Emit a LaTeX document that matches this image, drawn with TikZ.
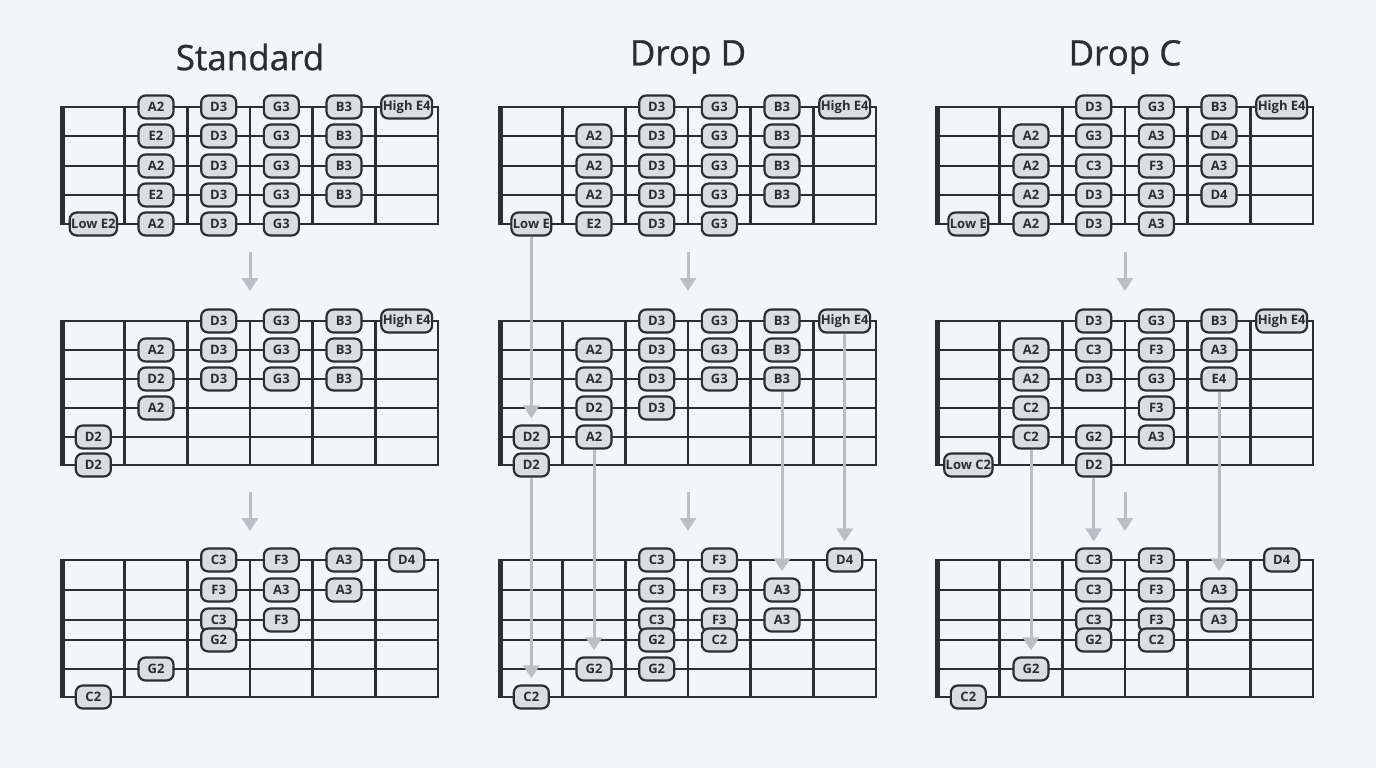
\documentclass[tikz,border=0pt]{standalone}
\usepackage{fontspec}
\setmainfont{Open Sans}
\newfontfamily\titlefont[FakeBold=0.8]{Open Sans}
\usetikzlibrary{arrows.meta}
\definecolor{bgcol}{HTML}{F3F6F8}
\definecolor{wire}{HTML}{2B2F33}
\definecolor{ink}{HTML}{2A2D31}
\definecolor{pillfill}{HTML}{D9DEE1}
\definecolor{flow}{HTML}{B9BFC5}
\tikzset{
    pill/.style={draw=wire, fill=pillfill, line width=2.2pt, rounded corners=7pt,
        minimum width=35pt, minimum height=23pt, inner xsep=1.5pt, inner ysep=0pt,
        font=\bfseries\fontsize{13}{13}\selectfont, text=ink},
    title/.style={font=\titlefont\fontsize{35}{35}\selectfont, text=ink},
    string/.style={draw=wire, line width=2.4pt, line cap=rect},
    nut/.style={draw=wire, line width=5pt},
    move/.style={draw=flow, line width=3pt, -{Triangle[width=16pt,length=13pt]}}
}
% grid of one board: name, nut x, top y, bottom y, string rows
\newcommand{\fretboard}[5]{
    \foreach \y [count=\r] in {#5} {
        \draw[string] (#2,\y) -- ++(376,0);
        \foreach \c in {1,...,6}
            \coordinate (#1-\r-\c) at ({#2+62.67*\c-31.33},\y);
    }
    \foreach \c in {1,...,6}
        \draw[string] ({#2+62.67*\c},#3) -- ({#2+62.67*\c},#4);
    \draw[nut] (#2,#3-1) -- (#2,#4+1);
}
% notes on a board: row/column/text
\newcommand{\notes}[2]{
    \foreach \r/\c/\t in {#2}
        \node[pill] (#1n-\r-\c) at (#1-\r-\c) {\t};
}

\begin{document}
\begin{tikzpicture}[x=1pt, y=-1pt]
    \fill[bgcol] (0,0) rectangle (1376,768);
    \useasboundingbox (0,0) rectangle (1376,768);

    \node[title] (tstd) at (250,57) {Standard};
    \node[title] (tdd) at (688,57) {Drop D};
    \node[title] (tdc) at (1125,57) {Drop C};

    % Standard
    \fretboard{st}{62}{107}{224}{107,136,166,195,224}
    \fretboard{sm}{62}{321}{465}{321,350,379,408,437,465}
    \fretboard{sb}{62}{560}{697}{560,590,620,640,669,697}
    % Drop D
    \fretboard{dt}{500}{107}{224}{107,136,166,195,224}
    \fretboard{dm}{500}{321}{465}{321,350,379,408,437,465}
    \fretboard{db}{500}{560}{697}{560,590,620,640,669,697}
    % Drop C
    \fretboard{ct}{937}{107}{224}{107,136,166,195,224}
    \fretboard{cm}{937}{321}{465}{321,350,379,408,437,465}
    \fretboard{cb}{937}{560}{697}{560,590,620,640,669,697}

    \notes{st}{1/2/A2, 1/3/D3, 1/4/G3, 1/5/B3, 1/6/High E4,
        2/2/E2, 2/3/D3, 2/4/G3, 2/5/B3,
        3/2/A2, 3/3/D3, 3/4/G3, 3/5/B3,
        4/2/E2, 4/3/D3, 4/4/G3, 4/5/B3,
        5/1/Low E2, 5/2/A2, 5/3/D3, 5/4/G3}
    \notes{sm}{1/3/D3, 1/4/G3, 1/5/B3, 1/6/High E4,
        2/2/A2, 2/3/D3, 2/4/G3, 2/5/B3,
        3/2/D2, 3/3/D3, 3/4/G3, 3/5/B3,
        4/2/A2, 5/1/D2, 6/1/D2}
    \notes{sb}{1/3/C3, 1/4/F3, 1/5/A3, 1/6/D4,
        2/3/F3, 2/4/A3, 2/5/A3,
        3/3/C3, 3/4/F3, 4/3/G2, 5/2/G2, 6/1/C2}

    \notes{dt}{1/3/D3, 1/4/G3, 1/5/B3, 1/6/High E4,
        2/2/A2, 2/3/D3, 2/4/G3, 2/5/B3,
        3/2/A2, 3/3/D3, 3/4/G3, 3/5/B3,
        4/2/A2, 4/3/D3, 4/4/G3, 4/5/B3,
        5/1/Low E, 5/2/E2, 5/3/D3, 5/4/G3}
    \notes{dm}{1/3/D3, 1/4/G3, 1/5/B3, 1/6/High E4,
        2/2/A2, 2/3/D3, 2/4/G3, 2/5/B3,
        3/2/A2, 3/3/D3, 3/4/G3, 3/5/B3,
        4/2/D2, 4/3/D3, 5/1/D2, 5/2/A2, 6/1/D2}
    \notes{db}{1/3/C3, 1/4/F3, 1/6/D4,
        2/3/C3, 2/4/F3, 2/5/A3,
        3/3/C3, 3/4/F3, 3/5/A3,
        4/3/G2, 4/4/C2, 5/2/G2, 5/3/G2, 6/1/C2}

    \notes{ct}{1/3/D3, 1/4/G3, 1/5/B3, 1/6/High E4,
        2/2/A2, 2/3/G3, 2/4/A3, 2/5/D4,
        3/2/A2, 3/3/C3, 3/4/F3, 3/5/A3,
        4/2/A2, 4/3/D3, 4/4/A3, 4/5/D4,
        5/1/Low E, 5/2/A2, 5/3/D3, 5/4/A3}
    \notes{cm}{1/3/D3, 1/4/G3, 1/5/B3, 1/6/High E4,
        2/2/A2, 2/3/C3, 2/4/F3, 2/5/A3,
        3/2/A2, 3/3/D3, 3/4/G3, 3/5/E4,
        4/2/C2, 4/4/F3, 5/2/C2, 5/3/G2, 5/4/A3,
        6/1/Low C2, 6/3/D2}
    \notes{cb}{1/3/C3, 1/4/F3, 1/6/D4,
        2/3/C3, 2/4/F3, 2/5/A3,
        3/3/C3, 3/4/F3, 3/5/A3,
        4/3/G2, 4/4/C2, 5/2/G2, 6/1/C2}

    % short arrows between boards
    \foreach \x/\n in {250/s, 688/d, 1125/c} {
        \coordinate (\n-a1) at (\x,252);
        \coordinate (\n-a2) at (\x,291);
        \coordinate (\n-b1) at (\x,492);
        \coordinate (\n-b2) at (\x,531);
        \draw[move] (\n-a1) -- (\n-a2);
        \draw[move] (\n-b1) -- (\n-b2);
    }

    % moved notes
    \draw[move, shorten >=6pt] (dtn-5-1.south) -- (dmn-5-1.north);
    \draw[move, shorten >=6pt] (dmn-6-1.south) -- (dbn-6-1.north);
    \draw[move, shorten >=6pt] (dmn-5-2.south) -- (dbn-5-2.north);
    \draw[move, shorten >=6pt] (dmn-3-5.south) -- (dbn-2-5.north);
    \draw[move, shorten >=6pt] (dmn-1-6.south) -- (dbn-1-6.north);
    \draw[move, shorten >=6pt] (cmn-5-2.south) -- (cbn-5-2.north);
    \draw[move, shorten >=6pt] (cmn-6-3.south) -- (cbn-1-3.north);
    \draw[move, shorten >=6pt] (cmn-3-5.south) -- (cbn-2-5.north);
\end{tikzpicture}
\end{document}
